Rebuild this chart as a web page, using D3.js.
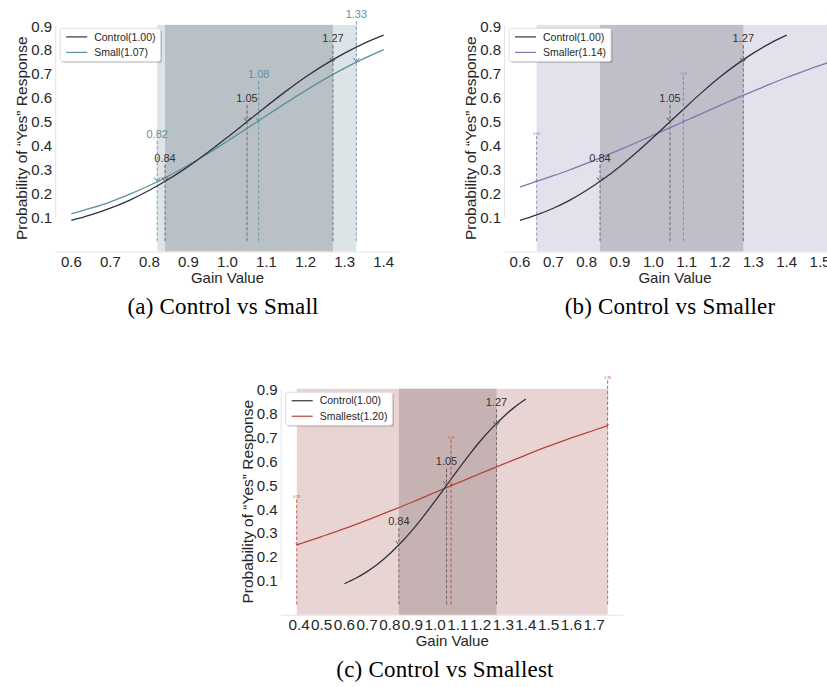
<!DOCTYPE html>
<html>
<head>
<meta charset="utf-8">
<script src="https://cdnjs.cloudflare.com/ajax/libs/d3/7.8.5/d3.min.js"></script>
<style>
body { margin: 0; background: #fff; overflow: hidden; }
svg { display: block; font-family: "Liberation Sans", Arial, sans-serif; }
</style>
</head>
<body>
<svg id="chart"></svg>
<script>
// values
var gainControl = [0.60, 0.65, 0.70, 0.75, 0.80, 0.85, 0.90, 0.95, 1.00, 1.05, 1.10, 1.15, 1.20, 1.25, 1.30, 1.35, 1.40];
var probControl = [0.087, 0.110, 0.138, 0.172, 0.213, 0.260, 0.313, 0.372, 0.435, 0.500, 0.565, 0.628, 0.687, 0.740, 0.787, 0.828, 0.862];

var gainSmall = [0.60, 0.65, 0.70, 0.75, 0.80, 0.85, 0.90, 0.95, 1.00, 1.05, 1.10, 1.15, 1.20, 1.25, 1.30, 1.35, 1.40];
var probSmall = [0.114, 0.138, 0.165, 0.197, 0.233, 0.274, 0.319, 0.367, 0.419, 0.472, 0.526, 0.579, 0.630, 0.679, 0.724, 0.765, 0.802];

var gainSmaller = [0.60, 0.65, 0.70, 0.75, 0.80, 0.85, 0.90, 0.95, 1.00, 1.05, 1.10, 1.15, 1.20, 1.25, 1.30, 1.35, 1.40, 1.45, 1.50, 1.53];
var probSmaller = [0.227, 0.250, 0.274, 0.299, 0.326, 0.354, 0.383, 0.413, 0.444, 0.475, 0.506, 0.537, 0.568, 0.599, 0.628, 0.657, 0.685, 0.711, 0.736, 0.750];

var gainSmallest = [0.39, 0.50, 0.60, 0.70, 0.80, 0.90, 1.00, 1.10, 1.20, 1.30, 1.40, 1.50, 1.60, 1.70, 1.76];
var probSmallest = [0.250, 0.285, 0.318, 0.354, 0.392, 0.430, 0.470, 0.510, 0.550, 0.589, 0.627, 0.664, 0.699, 0.731, 0.750];

// gain values where the curves hit 25%, 50%, 75%
var markProbs = [0.25, 0.50, 0.75];
var controlMarks = [0.84, 1.05, 1.27];
var smallMarks = [0.82, 1.08, 1.33];
var smallerMarks = [0.65, 1.09, 1.53];
var smallestMarks = [0.39, 1.07, 1.76];

var yTicks = [0.1, 0.2, 0.3, 0.4, 0.5, 0.6, 0.7, 0.8, 0.9];
var xTicksA = [0.6, 0.7, 0.8, 0.9, 1.0, 1.1, 1.2, 1.3, 1.4];
var xTicksB = [0.6, 0.7, 0.8, 0.9, 1.0, 1.1, 1.2, 1.3, 1.4, 1.5];
var xTicksC = [0.4, 0.5, 0.6, 0.7, 0.8, 0.9, 1.0, 1.1, 1.2, 1.3, 1.4, 1.5, 1.6, 1.7];

var legendControl = 'Control(1.00)';
var legendNames = ['Small(1.07)', 'Smaller(1.14)', 'Smallest(1.20)'];
var captions = ['(a) Control vs Small', '(b) Control vs Smaller', '(c) Control vs Smallest'];

var svgWidth = 827, svgHeight = 687;
var controlColor = '#2e3140';

var svg = d3.select('#chart')
    .attr('width', svgWidth)
    .attr('height', svgHeight);

var panels = [
    {
        gain: gainSmall, prob: probSmall, marks: smallMarks, legend: legendNames[0], caption: captions[0],
        xTicks: xTicksA, color: '#5e8fa0', light: '#dde4e7', dark: '#b9c1c6',
        left: 55.7, right: 399.3, top: 24.9, bottom: 251.5, labelSize: 11, tickSize: 15, captionX: 223
    },
    {
        gain: gainSmaller, prob: probSmaller, marks: smallerMarks, legend: legendNames[1], caption: captions[1],
        xTicks: xTicksB, color: '#7f77ae', light: '#e3e1eb', dark: '#bfbec9',
        left: 504.5, right: 845.5, top: 24.9, bottom: 251.5, labelSize: 3.5, tickSize: 15, captionX: 670
    },
    {
        gain: gainSmallest, prob: probSmallest, marks: smallestMarks, legend: legendNames[2], caption: captions[2],
        xTicks: xTicksC, color: '#b5473b', light: '#e9d4d4', dark: '#c6b2b3',
        left: 281.2, right: 623.2, top: 388.75, bottom: 614.75, labelSize: 3.5, tickSize: 15.3, captionX: 445
    }
];

panels.forEach(drawPanel);

function drawPanel(p) {
    // matplotlib style 5% margins around the data
    var xMin = Math.min(d3.min(gainControl), d3.min(p.gain));
    var xMax = Math.max(d3.max(gainControl), d3.max(p.gain));
    var xPad = (xMax - xMin) * 0.05;
    var yMax = Math.max(d3.max(probControl), d3.max(p.prob));
    var yPad = yMax * 0.05;

    var x = d3.scaleLinear().domain([xMin - xPad, xMax + xPad]).range([p.left, p.right]);
    var y = d3.scaleLinear().domain([-yPad, yMax + yPad]).range([p.bottom, p.top]);

    var g = svg.append('g');

    // shaded 25%-75% ranges
    g.append('rect')
        .attr('x', x(p.marks[0]))
        .attr('y', p.top)
        .attr('width', x(p.marks[2]) - x(p.marks[0]))
        .attr('height', p.bottom - p.top)
        .attr('fill', p.light);
    g.append('rect')
        .attr('x', x(controlMarks[0]))
        .attr('y', p.top)
        .attr('width', x(controlMarks[2]) - x(controlMarks[0]))
        .attr('height', p.bottom - p.top)
        .attr('fill', p.dark);

    // faint spines
    g.append('line')
        .attr('x1', p.left).attr('x2', p.left)
        .attr('y1', y(yTicks[0])).attr('y2', y(yTicks[yTicks.length - 1]))
        .attr('stroke', '#e4e4e4');
    g.append('line')
        .attr('x1', p.left).attr('x2', p.right)
        .attr('y1', p.bottom + 0.5).attr('y2', p.bottom + 0.5)
        .attr('stroke', '#e4e4e4');

    // tick labels
    g.selectAll('.ytick')
        .data(yTicks)
        .enter()
        .append('text')
        .attr('x', p.left - 3.5)
        .attr('y', function (d) { return y(d); })
        .attr('dy', '0.36em')
        .attr('text-anchor', 'end')
        .attr('font-size', 15)
        .attr('fill', '#262626')
        .text(function (d) { return d3.format('.1f')(d); });

    g.selectAll('.xtick')
        .data(p.xTicks)
        .enter()
        .append('text')
        .attr('x', function (d) { return x(d); })
        .attr('y', p.bottom + 15.5)
        .attr('text-anchor', 'middle')
        .attr('font-size', p.tickSize)
        .attr('fill', '#262626')
        .text(function (d) { return d3.format('.1f')(d); });

    // axis titles
    g.append('text')
        .attr('x', (p.left + p.right) / 2)
        .attr('y', p.bottom + 31.5)
        .attr('text-anchor', 'middle')
        .attr('font-size', 15)
        .attr('fill', '#262626')
        .text('Gain Value');

    g.append('text')
        .attr('transform', 'translate(' + (p.left - 34) + ',' + ((p.top + p.bottom) / 2) + ') rotate(-90)')
        .attr('dy', '0.35em')
        .attr('text-anchor', 'middle')
        .attr('font-size', 15.5)
        .attr('fill', '#262626')
        .text('Probability of \u201cYes\u201d Response');

    // caption under the panel
    g.append('text')
        .attr('x', p.captionX)
        .attr('y', p.bottom + 62.5)
        .attr('text-anchor', 'middle')
        .attr('font-family', '"Liberation Serif", "Times New Roman", serif')
        .attr('font-size', 23)
        .attr('letter-spacing', 0.2)
        .attr('fill', '#000')
        .text(p.caption);

    // dashed drop lines from the marked points
    drawDrops(g, x, y, controlMarks, '#555', 0.75);
    drawDrops(g, x, y, p.marks, p.color, 0.75);

    // curves
    var line = d3.line()
        .x(function (d) { return x(d[0]); })
        .y(function (d) { return y(d[1]); })
        .curve(d3.curveMonotoneX);

    g.append('path')
        .datum(d3.zip(p.gain, p.prob))
        .attr('fill', 'none')
        .attr('stroke', p.color)
        .attr('stroke-width', 1.3)
        .attr('d', line);

    g.append('path')
        .datum(d3.zip(gainControl, probControl))
        .attr('fill', 'none')
        .attr('stroke', controlColor)
        .attr('stroke-width', 1.3)
        .attr('d', line);

    // annotations
    drawNotes(g, x, y, controlMarks, 0.1, 11, '#333', '#555');
    drawNotes(g, x, y, p.marks, 0.2, p.labelSize, p.color, p.color);

    // legend
    var lg = g.append('g').attr('transform', 'translate(' + (p.left + 4.5) + ',' + (p.top + 3.5) + ')');
    var shadow = lg.append('rect').attr('x', 1.5).attr('y', 1.5).attr('rx', 2).attr('fill', '#000').attr('opacity', 0.18);
    var frame = lg.append('rect').attr('rx', 2).attr('fill', '#fff').attr('stroke', '#d8d8d8').attr('stroke-width', 0.8);
    var items = [{ name: legendControl, color: controlColor }, { name: p.legend, color: p.color }];
    var maxW = 0;
    items.forEach(function (d, i) {
        var cy = 8.5 + i * 15.5;
        lg.append('line')
            .attr('x1', 6).attr('x2', 27)
            .attr('y1', cy).attr('y2', cy)
            .attr('stroke', d.color)
            .attr('stroke-width', 1.2);
        var t = lg.append('text')
            .attr('x', 34)
            .attr('y', cy)
            .attr('dy', '0.35em')
            .attr('font-size', 10.5)
            .attr('fill', '#262626')
            .text(d.name);
        maxW = Math.max(maxW, t.node().getComputedTextLength());
    });
    var boxW = 34 + maxW + 5, boxH = 33;
    frame.attr('width', boxW).attr('height', boxH);
    shadow.attr('width', boxW).attr('height', boxH);
}

function drawDrops(g, x, y, marks, color, opacity) {
    g.selectAll(null)
        .data(marks)
        .enter()
        .append('line')
        .attr('x1', function (d) { return x(d); })
        .attr('x2', function (d) { return x(d); })
        .attr('y1', y(0))
        .attr('y2', function (d, i) { return y(markProbs[i]); })
        .attr('stroke', color)
        .attr('stroke-opacity', opacity)
        .attr('stroke-width', 1)
        .attr('stroke-dasharray', '3.5,1.8');
}

function drawNotes(g, x, y, marks, offset, size, textColor, arrowColor) {
    var a = Math.max(size * 0.28, 1);
    marks.forEach(function (m, i) {
        var px = x(m), py = y(markProbs[i]), ty = y(markProbs[i] + offset);
        g.append('text')
            .attr('x', px)
            .attr('y', ty)
            .attr('dy', '0.36em')
            .attr('text-anchor', 'middle')
            .attr('font-size', size)
            .attr('fill', textColor)
            .text(d3.format('.2f')(m));
        g.append('line')
            .attr('x1', px).attr('x2', px)
            .attr('y1', ty + size * 0.65).attr('y2', py - 0.5)
            .attr('stroke', arrowColor)
            .attr('stroke-opacity', 0.85)
            .attr('stroke-width', 1)
            .attr('stroke-dasharray', '3.5,1.8');
        g.append('path')
            .attr('d', 'M' + (px - a) + ',' + (py - a * 1.3) + 'L' + px + ',' + py + 'L' + (px + a) + ',' + (py - a * 1.3))
            .attr('fill', 'none')
            .attr('stroke', arrowColor)
            .attr('stroke-width', 1);
    });
}
</script>
</body>
</html>
